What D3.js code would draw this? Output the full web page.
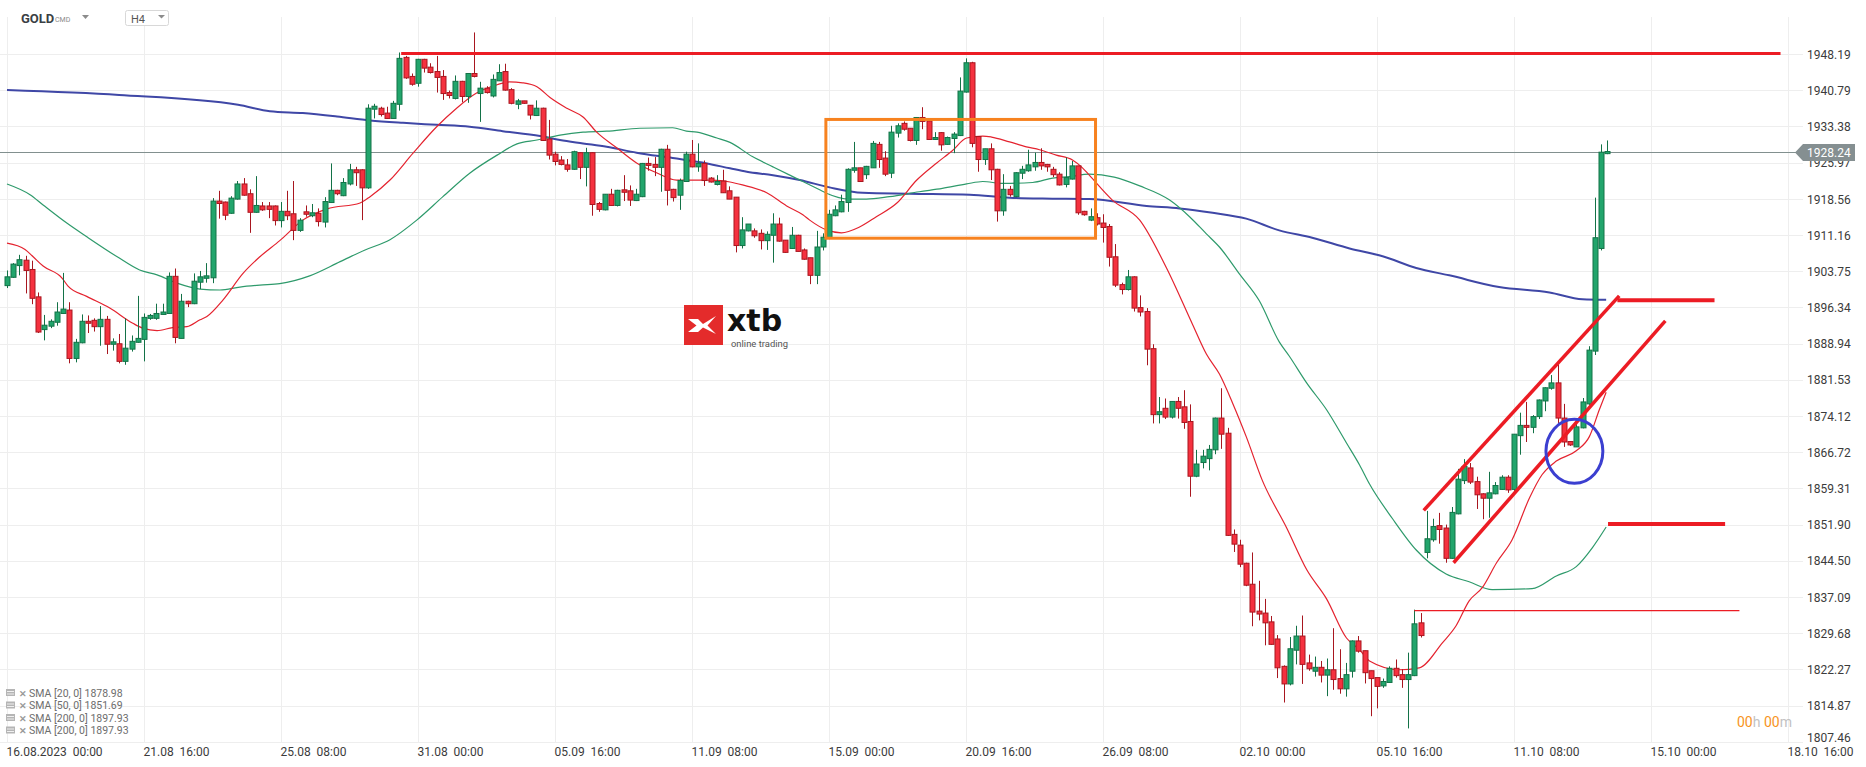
<!DOCTYPE html>
<html><head><meta charset="utf-8">
<script src="https://cdn.jsdelivr.net/npm/d3@7"></script>
<style>
html,body{margin:0;padding:0;background:#fff;}
svg{display:block;font-family:Roboto,"Noto Sans",sans-serif;}
</style></head><body>
<svg id="chart" width="1866" height="767"></svg>
<script>
// ---------------- DATA ----------------
const opens = [
1900.8,1902.5,1904.9,1906.0,1904.1,1898.5,1891.8,1892.5,1893.3,1895.1,
1895.8,1885.9,1889.1,1893.5,1893.7,1892.4,1893.9,1888.8,1888.9,1885.3,
1887.8,1889.2,1889.8,1894.1,1894.1,1894.9,1895.1,1902.7,1890.0,1897.6,
1897.1,1901.5,1902.3,1902.4,1918.1,1917.9,1915.6,1918.5,1921.6,1919.6,
1915.8,1917.1,1917.1,1917.1,1914.1,1916.0,1915.5,1912.1,1915.9,1915.1,
1915.6,1913.8,1917.8,1920.3,1919.2,1921.6,1924.5,1924.5,1920.8,1936.9,
1937.1,1936.1,1935.0,1937.9,1947.5,1943.6,1942.2,1947.1,1945.5,1944.6,
1943.6,1940.3,1939.1,1942.6,1939.5,1944.2,1940.1,1941.2,1939.6,1942.7,
1944.6,1940.9,1937.9,1938.6,1937.7,1935.6,1937.1,1930.8,1927.7,1926.5,
1925.5,1924.6,1928.0,1925.0,1928.0,1917.6,1916.3,1919.5,1917.2,1920.4,
1920.2,1918.2,1919.0,1925.8,1925.6,1925.0,1928.7,1920.5,1919.3,1922.1,
1927.7,1925.1,1925.8,1922.8,1921.5,1922.2,1920.2,1918.9,1909.0,1912.0,
1912.0,1911.5,1910.0,1911.1,1913.4,1910.1,1908.4,1911.1,1908.1,1906.5,
1902.9,1908.7,1910.5,1915.1,1915.9,1917.8,1924.4,1924.9,1923.5,1924.9,
1929.7,1926.9,1923.8,1932.0,1934.0,1933.0,1930.5,1935.2,1934.5,1930.7,
1932.1,1929.7,1930.9,1931.5,1940.4,1946.4,1931.3,1926.6,1928.8,1924.6,
1916.1,1920.5,1919.0,1923.8,1924.3,1925.1,1926.0,1925.6,1924.6,1923.6,
1921.5,1922.6,1925.3,1916.0,1914.2,1914.7,1913.6,1912.9,1906.7,1901.0,
1900.0,1902.6,1896.3,1895.5,1887.9,1874.4,1875.7,1873.9,1877.1,1876.0,
1873.0,1861.8,1864.6,1865.4,1867.2,1873.7,1870.6,1849.9,1847.7,1844.0,
1839.7,1834.2,1833.8,1832.0,1828.5,1822.9,1819.3,1826.2,1829.1,1823.6,
1821.9,1822.7,1821.1,1822.2,1820.4,1818.3,1821.9,1828.1,1826.1,1822.0,
1820.6,1818.9,1819.6,1822.5,1821.2,1820.2,1821.0,1831.8,1846.2,1848.8,
1851.7,1851.2,1845.0,1854.1,1860.9,1863.5,1860.7,1858.2,1857.3,1858.2,
1859.1,1861.6,1859.1,1870.1,1872.2,1871.8,1874.0,1877.2,1879.8,1880.9,
1873.7,1868.9,1867.8,1871.7,1876.6,1887.4,1908.4,1927.8];
const highs = [
1903.9,1905.4,1907.1,1906.9,1905.9,1899.4,1894.8,1893.9,1897.4,1903.4,
1897.4,1889.9,1894.9,1894.7,1894.1,1896.6,1894.6,1890.0,1890.9,1894.1,
1890.6,1898.7,1895.1,1895.0,1897.1,1897.1,1903.5,1904.3,1899.1,1897.7,
1903.3,1903.8,1905.4,1918.7,1920.2,1918.0,1919.1,1922.2,1922.8,1920.5,
1923.2,1917.9,1917.9,1917.2,1917.9,1920.2,1922.2,1914.6,1917.2,1917.5,
1916.6,1918.9,1925.8,1920.4,1922.8,1925.7,1925.1,1924.6,1937.9,1938.0,
1937.4,1937.4,1938.6,1948.5,1947.8,1944.2,1947.2,1947.2,1946.3,1947.8,
1944.9,1940.7,1943.8,1942.7,1944.3,1952.6,1942.5,1941.6,1944.0,1946.1,
1946.2,1941.2,1939.0,1938.6,1937.7,1938.7,1937.2,1934.7,1928.2,1927.3,
1926.7,1928.4,1928.1,1929.0,1928.1,1917.9,1919.5,1920.6,1920.4,1923.4,
1921.3,1920.6,1925.9,1927.0,1927.1,1928.8,1929.6,1920.6,1922.7,1928.2,
1930.6,1929.9,1926.4,1923.0,1923.4,1924.5,1921.1,1918.9,1914.8,1913.4,
1912.5,1912.3,1911.9,1915.6,1914.7,1910.1,1912.8,1911.2,1908.4,1906.5,
1912.0,1911.5,1916.3,1917.2,1919.4,1924.8,1930.2,1924.9,1925.3,1930.4,
1930.2,1928.3,1933.5,1934.0,1934.4,1933.0,1935.3,1937.3,1934.5,1932.2,
1932.2,1931.3,1932.2,1943.4,1947.3,1946.6,1931.4,1928.8,1929.9,1924.7,
1923.6,1921.2,1924.0,1925.3,1928.6,1928.0,1928.9,1925.7,1925.1,1924.0,
1927.0,1926.3,1925.3,1916.1,1916.6,1915.6,1915.4,1913.4,1909.3,1901.4,
1904.0,1902.7,1898.8,1896.2,1888.8,1878.0,1877.7,1877.1,1878.0,1879.4,
1876.5,1867.2,1867.2,1868.2,1873.8,1879.8,1871.7,1850.9,1848.8,1844.1,
1846.2,1840.4,1836.7,1833.2,1829.3,1823.1,1828.9,1831.2,1833.3,1825.3,
1824.9,1824.0,1824.5,1830.7,1826.4,1823.6,1828.2,1829.1,1826.1,1822.0,
1820.6,1820.4,1822.9,1824.3,1822.3,1825.7,1834.5,1833.8,1854.7,1853.1,
1854.3,1851.9,1855.5,1863.3,1865.3,1864.5,1861.7,1858.3,1862.7,1860.6,
1862.0,1862.0,1870.4,1874.8,1877.0,1874.3,1877.5,1880.0,1882.5,1884.7,
1876.6,1869.0,1872.5,1877.8,1888.4,1918.8,1929.7,1930.5];
const lows = [
1900.3,1902.4,1902.9,1899.2,1897.0,1891.1,1889.6,1892.1,1892.6,1895.0,
1884.9,1885.1,1889.0,1891.1,1891.4,1888.5,1886.8,1887.5,1884.9,1884.6,
1887.3,1889.1,1885.3,1893.8,1893.8,1894.9,1895.1,1889.0,1890.0,1896.4,
1897.0,1900.1,1901.4,1901.3,1914.5,1914.2,1915.5,1918.4,1919.2,1911.6,
1915.7,1916.1,1914.6,1913.1,1912.7,1914.2,1910.1,1911.8,1914.9,1914.8,
1912.9,1912.7,1917.7,1919.3,1919.1,1921.3,1921.2,1914.2,1920.6,1935.0,
1935.4,1934.9,1934.9,1936.6,1943.1,1941.7,1941.5,1944.4,1944.2,1940.3,
1938.8,1939.1,1938.9,1938.3,1938.2,1943.4,1934.3,1940.1,1939.3,1942.7,
1940.7,1937.9,1936.9,1938.0,1934.8,1935.5,1930.4,1926.6,1925.4,1925.4,
1924.1,1924.5,1922.6,1921.1,1915.1,1915.9,1916.2,1917.2,1917.0,1918.1,
1917.1,1918.1,1918.9,1924.3,1923.2,1920.0,1917.2,1918.0,1916.3,1922.0,
1925.0,1924.1,1921.2,1921.9,1921.3,1919.8,1918.5,1907.6,1908.4,1911.9,
1910.6,1908.2,1908.1,1905.5,1909.8,1907.5,1908.3,1907.8,1906.1,1901.1,
1901.1,1908.0,1910.3,1915.0,1915.8,1915.9,1923.9,1922.0,1922.6,1924.9,
1924.9,1923.2,1922.8,1931.1,1932.5,1930.3,1929.6,1932.8,1930.6,1930.6,
1928.4,1929.6,1927.9,1931.4,1940.3,1929.1,1924.1,1925.5,1922.4,1913.9,
1915.1,1919.0,1918.9,1922.6,1924.1,1924.3,1924.5,1924.1,1923.0,1921.3,
1920.9,1922.5,1915.3,1915.1,1914.0,1913.1,1909.6,1904.7,1900.5,1899.0,
1899.8,1895.5,1894.5,1884.5,1872.6,1872.6,1873.5,1873.6,1873.6,1871.5,
1857.6,1861.6,1863.4,1863.0,1866.3,1867.4,1849.6,1846.3,1843.2,1839.3,
1831.1,1832.3,1827.2,1827.3,1820.5,1815.5,1819.0,1823.3,1819.3,1822.0,
1820.8,1819.6,1816.8,1818.1,1817.3,1816.7,1820.6,1825.7,1819.4,1812.7,
1814.3,1818.5,1819.5,1820.6,1818.5,1810.2,1820.9,1828.8,1845.0,1848.4,
1848.0,1844.1,1844.9,1854.0,1860.2,1860.2,1855.1,1853.0,1853.3,1858.1,
1859.0,1858.4,1858.8,1866.2,1868.8,1870.6,1873.5,1875.1,1879.5,1872.7,
1867.8,1868.0,1867.8,1871.6,1876.4,1886.6,1908.0,1927.7];
const closes = [
1902.6,1905.2,1906.1,1903.9,1898.2,1891.3,1892.7,1893.5,1895.4,1896.0,
1885.9,1889.2,1893.5,1893.1,1892.4,1893.9,1888.8,1889.3,1885.3,1888.0,
1889.4,1890.0,1894.3,1894.7,1895.1,1895.4,1902.7,1890.2,1897.6,1897.1,
1901.7,1902.6,1902.8,1918.1,1917.6,1915.2,1918.7,1921.6,1919.3,1915.8,
1917.2,1916.3,1916.4,1914.1,1916.0,1915.1,1912.1,1914.2,1915.4,1915.7,
1913.9,1918.0,1920.3,1919.6,1921.9,1924.5,1923.9,1920.8,1937.1,1937.5,
1935.8,1935.0,1938.1,1947.3,1943.3,1942.0,1947.1,1945.3,1944.4,1943.4,
1940.1,1939.7,1942.6,1939.5,1944.2,1943.6,1941.2,1940.3,1943.0,1944.4,
1940.8,1938.1,1938.6,1938.1,1935.7,1937.1,1930.5,1927.5,1926.2,1925.6,
1924.6,1928.2,1925.0,1928.0,1917.4,1916.4,1919.5,1917.2,1920.3,1919.9,
1918.3,1919.5,1925.8,1925.4,1925.0,1928.7,1920.3,1918.8,1922.3,1927.7,
1925.1,1925.8,1922.3,1922.0,1922.1,1919.8,1918.5,1909.0,1912.2,1913.4,
1911.0,1910.0,1911.3,1913.4,1909.9,1907.6,1911.1,1907.8,1906.2,1902.9,
1908.7,1910.7,1915.4,1916.3,1918.0,1924.6,1924.9,1922.1,1925.2,1929.9,
1926.6,1923.6,1932.2,1933.5,1932.8,1930.5,1935.2,1934.4,1930.7,1931.1,
1929.6,1931.1,1931.8,1940.6,1946.4,1929.9,1926.6,1928.8,1924.5,1916.1,
1920.5,1919.4,1923.9,1924.6,1925.5,1926.0,1925.3,1925.1,1923.5,1921.4,
1922.9,1925.3,1915.7,1915.3,1914.9,1913.4,1912.7,1906.6,1900.9,1900.0,
1902.6,1896.2,1895.4,1887.8,1874.4,1875.0,1873.9,1877.1,1875.7,1872.8,
1861.8,1864.3,1865.9,1867.3,1873.7,1870.4,1849.7,1847.9,1843.8,1839.5,
1834.0,1833.6,1831.8,1827.4,1822.6,1819.3,1826.5,1829.1,1823.3,1822.4,
1822.7,1821.1,1822.2,1820.2,1818.3,1821.2,1828.1,1826.0,1821.6,1820.4,
1818.8,1819.8,1822.5,1821.0,1820.2,1821.2,1831.6,1829.2,1849.0,1851.5,
1850.9,1845.0,1854.4,1861.2,1863.8,1860.6,1858.0,1857.3,1858.4,1859.9,
1861.6,1859.0,1870.4,1872.2,1871.8,1874.0,1877.4,1879.9,1880.9,1873.7,
1868.8,1868.2,1871.9,1877.0,1887.6,1910.6,1928.1,1928.24];

// moving averages: [candle index, value]
const sma20 = [[0,1909.5],[2.9,1908.2],[4.2,1906.7],[5.8,1904.8],[8.8,1902.4],[9.8,1900.7],[12.8,1898.6],[16.5,1896.2],[20.2,1893.1],[21.8,1892.1],[24.1,1891.6],[26.6,1892.2],[28.9,1892.4],[31.0,1893.8],[32.1,1894.5],[34.7,1897.9],[37.9,1903.3],[40.6,1906.7],[43.8,1910.0],[47.5,1914.2],[51.4,1916.5],[56.7,1917.7],[58.3,1919.0],[61.5,1922.4],[65.2,1927.9],[69.0,1933.3],[72.2,1937.1],[75.4,1940.2],[78.7,1941.9],[80.7,1942.5],[82.8,1942.3],[85.1,1941.5],[87.2,1939.3],[89.9,1937.1],[92.5,1935.3],[94.7,1932.2],[97.9,1929.0],[101.1,1925.9],[104.3,1923.9],[107.5,1922.4],[110.8,1922.4],[113.3,1922.4],[116.1,1922.0],[118.1,1921.4],[122.0,1919.8],[125.2,1917.1],[127.8,1915.3],[128.9,1914.2],[131.6,1912.2],[134.0,1911.6],[136.9,1912.8],[139.6,1914.9],[142.9,1917.7],[146.1,1922.4],[149.3,1925.9],[151.8,1928.4],[154.1,1931.0],[156.7,1931.4],[158.1,1931.2],[161.0,1930.2],[163.7,1929.2],[165.8,1928.6],[168.5,1927.5],[171.1,1926.5],[172.7,1924.9],[173.8,1923.4],[177.5,1918.3],[181.9,1914.2],[186.2,1904.4],[190.4,1892.8],[192.6,1886.8],[194.7,1882.7],[196.8,1876.8],[199.0,1869.9],[201.6,1860.9],[205.5,1851.2],[208.7,1842.7],[211.9,1836.7],[215.1,1828.7],[217.2,1826.3],[218.8,1824.0],[223.6,1822.2],[226.8,1822.6],[230.5,1827.7],[232.7,1831.2],[234.8,1836.3],[236.9,1839.0],[239.2,1844.1],[241.7,1848.8],[244.5,1857.4],[246.5,1862.1],[248.8,1864.9],[252.0,1867.0],[254.1,1869.9],[255.7,1875.4],[256.8,1879.0]];
const sma50 = [[0,1921.6],[3.7,1919.4],[5.8,1917.3],[9.6,1913.6],[12.8,1910.8],[17.7,1906.7],[21.3,1904.0],[24.1,1903.0],[27.3,1901.3],[31.0,1900.1],[34.2,1899.9],[37.4,1900.5],[40.6,1900.9],[43.8,1901.2],[48.6,1902.8],[53.5,1905.7],[57.5,1908.1],[61.5,1910.2],[65.8,1914.2],[70.0,1919.0],[74.3,1923.8],[78.7,1927.5],[81.9,1929.8],[85.1,1930.6],[88.8,1931.6],[92.5,1932.2],[96.3,1932.4],[101.6,1933.0],[106.9,1933.1],[109.1,1932.4],[110.8,1932.2],[114.0,1931.0],[116.1,1930.1],[119.7,1927.2],[123.0,1925.1],[125.7,1923.4],[127.8,1922.1],[130.5,1920.4],[131.6,1919.7],[135.3,1918.5],[138.0,1918.5],[141.7,1919.0],[146.5,1920.0],[150.2,1920.7],[154.1,1921.6],[156.7,1922.1],[159.9,1921.7],[164.7,1921.9],[167.9,1922.8],[170.6,1923.1],[173.8,1923.6],[177.8,1923.0],[181.9,1921.2],[186.7,1918.3],[189.9,1914.9],[192.6,1911.4],[194.7,1908.7],[197.9,1903.2],[201.1,1897.7],[204.3,1889.3],[205.9,1886.4],[208.7,1880.9],[211.9,1875.4],[215.1,1868.6],[217.2,1864.1],[218.8,1860.2],[222.5,1853.1],[226.3,1846.7],[231.1,1841.8],[234.8,1840.2],[238.5,1838.6],[244.9,1838.8],[248.8,1841.4],[252.0,1843.3],[254.6,1847.2],[256.8,1851.4]];
const sma200 = [[0,1940.8],[18.0,1939.8],[37.1,1937.8],[42.2,1936.5],[47.5,1936.1],[53.0,1935.4],[58.3,1934.6],[63.6,1934.1],[69.0,1933.7],[74.3,1933.3],[79.6,1932.4],[85.6,1931.4],[88.8,1930.6],[92.5,1929.9],[96.3,1929.2],[101.1,1928.0],[106.9,1926.9],[112.4,1925.8],[116.1,1924.8],[118.8,1924.1],[123.0,1923.4],[127.3,1922.4],[132.1,1920.9],[137.4,1919.8],[144.9,1919.6],[154.6,1919.4],[161.0,1918.8],[166.3,1918.6],[173.8,1918.5],[183.0,1917.1],[188.3,1916.6],[193.6,1915.7],[199.0,1914.5],[204.3,1912.1],[209.6,1910.6],[215.6,1908.4],[220.9,1906.8],[226.3,1904.4],[231.6,1902.9],[239.6,1900.5],[247.7,1899.4],[253.0,1898.0],[256.8,1897.9]];

const xTickIdx = [0,22,44,66,88,110,132,154,176,198,220,242,264,286];
const xTickLabels = ["16.08.2023  00:00","21.08  16:00","25.08  08:00","31.08  00:00","05.09  16:00","11.09  08:00","15.09  00:00","20.09  16:00","26.09  08:00","02.10  00:00","05.10  16:00","11.10  08:00","15.10  00:00","18.10  16:00"];
const yTicks = [1807.46,1814.87,1822.27,1829.68,1837.09,1844.50,1851.90,1859.31,1866.72,1874.12,1881.53,1888.94,1896.34,1903.75,1911.16,1918.56,1925.97,1933.38,1940.79,1948.19];
const lastPrice = 1928.24;
const legendLabels = ["SMA [20, 0] 1878.98","SMA [50, 0] 1851.69","SMA [200, 0] 1897.93","SMA [200, 0] 1897.93"];

// drawn annotations, in data units [candle index, price]
const resistanceLine = [[63.3,1948.3],[284.8,1948.3]];
const rangeBox = [[131.5,1934.8],[174.8,1910.5]];
const channelUpper = [[227.5,1854.8],[258.9,1898.7]];
const channelLower = [[232.3,1844.1],[266.3,1893.6]];
const levelUpper = [[258.6,1897.8],[274.2,1897.8]];
const levelLower = [[257.1,1852.0],[275.9,1852.0]];
const thinLevel = [[226,1834.3],[278.2,1834.3]];
const circleCenter = [251.7,1866.9];
const circleRadius = [4.57,6.55]; // in candles, in price

// ---------------- DRAW ----------------
const svg = d3.select("#chart");
const x = d3.scaleLinear().domain([0,286]).range([7,1788]);
const y = d3.scaleLinear().domain([1807.46,1948.19]).range([741.8,54]);
const upFill="#22a56c", upStroke="#137247", dnFill="#f5313f", dnStroke="#a8161f";

// grid
const grid = svg.append("g");
grid.selectAll("line.h").data(yTicks).join("line")
  .attr("x1",0).attr("x2",1803)
  .attr("y1",d=>Math.round(y(d))+0.5).attr("y2",d=>Math.round(y(d))+0.5)
  .attr("stroke","#eeeeee");
grid.selectAll("line.v").data(xTickIdx).join("line")
  .attr("x1",d=>Math.round(x(d))+0.5).attr("x2",d=>Math.round(x(d))+0.5)
  .attr("y1",17).attr("y2",742)
  .attr("stroke","#eeeeee");

// last price line
svg.append("line").attr("x1",0).attr("x2",1796)
  .attr("y1",Math.round(y(lastPrice))+0.5).attr("y2",Math.round(y(lastPrice))+0.5)
  .attr("stroke","#82908f").attr("stroke-width",1);

// SMAs
const line = d3.line().x(d=>x(d[0])).y(d=>y(d[1])).curve(d3.curveMonotoneX);
svg.append("path").attr("d",line(sma200)).attr("fill","none").attr("stroke","#3f47a6").attr("stroke-width",2);
svg.append("path").attr("d",line(sma50)).attr("fill","none").attr("stroke","#2e9a6b").attr("stroke-width",1.2);
svg.append("path").attr("d",line(sma20)).attr("fill","none").attr("stroke","#e4232f").attr("stroke-width",1.2);

// candles
const idx = d3.range(closes.length);
const isUp = i => closes[i] >= opens[i];
const cg = svg.append("g");
cg.selectAll("line").data(idx).join("line")
  .attr("x1",i=>Math.round(x(i))+0.5).attr("x2",i=>Math.round(x(i))+0.5)
  .attr("y1",i=>y(highs[i])).attr("y2",i=>y(lows[i]))
  .attr("stroke",i=>isUp(i)?upStroke:dnStroke).attr("stroke-width",1);
cg.selectAll("rect").data(idx).join("rect")
  .attr("x",i=>Math.round(x(i))-2)
  .attr("y",i=>y(Math.max(opens[i],closes[i])))
  .attr("width",5)
  .attr("height",i=>Math.max(1,Math.abs(y(opens[i])-y(closes[i]))))
  .attr("fill",i=>isUp(i)?upFill:dnFill)
  .attr("stroke",i=>isUp(i)?upStroke:dnStroke).attr("stroke-width",1);

// annotations
const seg = (p, color, w) => svg.append("line")
  .attr("x1",x(p[0][0])).attr("y1",y(p[0][1])).attr("x2",x(p[1][0])).attr("y2",y(p[1][1]))
  .attr("stroke",color).attr("stroke-width",w);
seg(resistanceLine,"#ec1c24",3);
seg(thinLevel,"#ec1c24",1.4);
seg(channelUpper,"#ec1c24",3.5);
seg(channelLower,"#ec1c24",3.5);
seg(levelUpper,"#ec1c24",4);
seg(levelLower,"#ec1c24",4);
svg.append("rect")
  .attr("x",x(rangeBox[0][0])).attr("y",y(rangeBox[0][1]))
  .attr("width",x(rangeBox[1][0])-x(rangeBox[0][0]))
  .attr("height",y(rangeBox[1][1])-y(rangeBox[0][1]))
  .attr("fill","none").attr("stroke","#f7821f").attr("stroke-width",3);
svg.append("ellipse")
  .attr("cx",x(circleCenter[0])).attr("cy",y(circleCenter[1]))
  .attr("rx",x(circleRadius[0])-x(0)).attr("ry",y(1807.46)-y(1807.46+circleRadius[1]))
  .attr("fill","none").attr("stroke","#3b3fd0").attr("stroke-width",3);

// y axis
const yAxis = d3.axisRight(y).tickValues(yTicks).tickFormat(d3.format(".2f")).tickSize(0).tickPadding(0);
const gy = svg.append("g").attr("transform","translate(1807,0)").call(yAxis);
gy.select(".domain").remove();
gy.selectAll("text").attr("fill","#3b3b3b").attr("font-size",12).attr("font-family","Roboto")
  .attr("dy",d=> d===yTicks[0] ? "-0.05em" : "0.35em");

// x axis
const xAxis = d3.axisBottom(x).tickValues(xTickIdx).tickFormat((d,k)=>xTickLabels[k]).tickSize(0).tickPadding(0);
const gx = svg.append("g").attr("transform","translate(-1,742)").call(xAxis);
gx.select(".domain").remove();
gx.selectAll("text").attr("fill","#3b3b3b").attr("font-size",12).attr("font-family","Roboto")
  .attr("text-anchor","start").attr("y",14).attr("dy",0).style("white-space","pre");

// last price label
const yc = Math.round(y(lastPrice))+0.5;
svg.append("path")
  .attr("d",`M1795,${yc} L1803,${yc-8.5} L1855,${yc-8.5} L1855,${yc+8.5} L1803,${yc+8.5} Z`)
  .attr("fill","#858f91");
svg.append("text").attr("x",1807).attr("y",yc+4.3).attr("fill","#fff")
  .attr("font-size",12).text(d3.format(".2f")(lastPrice));

// header
svg.append("text").attr("x",21).attr("y",23).attr("font-size",13).attr("font-weight",700).attr("fill","#3a3f44").text("GOLD");
svg.append("text").attr("x",55).attr("y",22).attr("font-size",7).attr("fill","#8a8a8a").text("CMD");
svg.append("path").attr("d","M82,15 L89,15 L85.5,19 Z").attr("fill","#8c8c8c");
svg.append("rect").attr("x",125.5).attr("y",10.5).attr("width",43).attr("height",15).attr("rx",2)
  .attr("fill","#fff").attr("stroke","#d8d8d8");
svg.append("text").attr("x",131).attr("y",22.5).attr("font-size",11).attr("fill","#555").text("H4");
svg.append("path").attr("d","M158,15 L165,15 L161.5,18.5 Z").attr("fill","#8c8c8c");

// xtb logo
svg.append("rect").attr("x",684).attr("y",305).attr("width",39).attr("height",40).attr("fill","#e42b2b");
svg.append("path").attr("d","M688,319 L698,319 L703,324 L716,316 L707.5,325.5 L716,334 L703,327.5 L698,332 L688,332 L696.5,325.5 Z").attr("fill","#fff");
svg.append("text").attr("x",727).attr("y",331).attr("font-family","DejaVu Sans").attr("font-weight",700)
  .attr("font-size",30).attr("fill","#111").text("xtb");
svg.append("text").attr("x",731).attr("y",347).attr("font-size",8.5).attr("fill","#555")
  .attr("textLength",57).attr("lengthAdjust","spacingAndGlyphs").text("online trading");

// legend
const lg = svg.append("g");
legendLabels.forEach((t,k)=>{
  const yy = 693 + k*12.5;
  lg.append("rect").attr("x",6).attr("y",yy-4).attr("width",9).attr("height",7).attr("fill","#b5b5b5");
  lg.append("line").attr("x1",7).attr("x2",14).attr("y1",yy-1.5).attr("y2",yy-1.5).attr("stroke","#fff").attr("stroke-width",0.8);
  lg.append("line").attr("x1",7).attr("x2",14).attr("y1",yy+1).attr("y2",yy+1).attr("stroke","#fff").attr("stroke-width",0.8);
  lg.append("text").attr("x",19).attr("y",yy+3.5).attr("font-size",9).attr("font-weight",700).attr("fill","#9a9a9a").text("✕");
  lg.append("text").attr("x",29).attr("y",yy+3.5).attr("font-size",10.5).attr("fill","#6d6d6d").text(t);
});

// countdown
const cd = svg.append("text").attr("x",1737).attr("y",727).attr("font-size",14);
cd.append("tspan").attr("fill","#f7941d").text("00");
cd.append("tspan").attr("fill","#c2c2c2").text("h ");
cd.append("tspan").attr("fill","#f7941d").text("00");
cd.append("tspan").attr("fill","#c2c2c2").text("m");
</script>
</body></html>
